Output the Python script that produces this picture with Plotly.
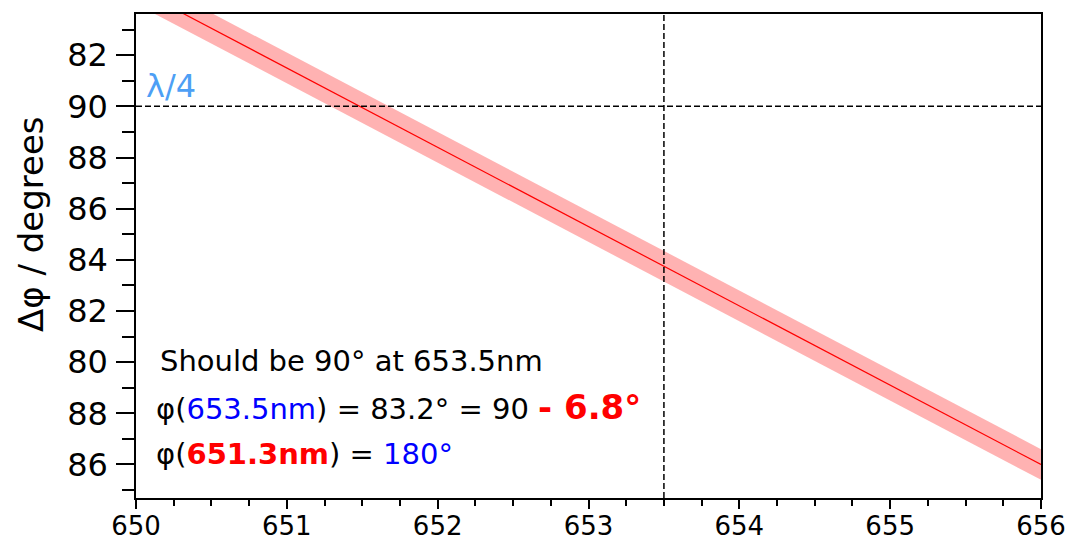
import plotly.graph_objects as go

# ---- data ----
wavelength_nm = [650.0, 651.0, 652.0, 653.0, 654.0, 655.0, 656.0]
phase_deg = [94.6, 91.5, 88.4, 85.3, 82.2, 79.1, 76.0]
phase_upper = [95.2, 92.1, 89.0, 85.9, 82.8, 79.7, 76.6]
phase_lower = [94.0, 90.9, 87.8, 84.7, 81.6, 78.5, 75.4]

quarter_wave_deg = 90
target_nm = 653.5

y_tickvals = [76, 78, 80, 82, 84, 86, 88, 90, 92]
y_ticktext = ["86", "88", "80", "82", "84", "86", "88", "90", "82"]
y_minor_vals = [75, 77, 79, 81, 83, 85, 87, 89, 91, 93]
x_tickvals = [650, 651, 652, 653, 654, 655, 656]

FONT = "DejaVu Sans"

fig = go.Figure()

# uncertainty band
fig.add_trace(go.Scatter(x=wavelength_nm, y=phase_upper, mode="lines",
                         line=dict(width=0, color="rgba(0,0,0,0)"),
                         showlegend=False, hoverinfo="skip"))
fig.add_trace(go.Scatter(x=wavelength_nm, y=phase_lower, mode="lines",
                         line=dict(width=0, color="rgba(0,0,0,0)"),
                         fill="tonexty", fillcolor="rgba(255,0,0,0.3)",
                         showlegend=False, hoverinfo="skip"))
# central line
fig.add_trace(go.Scatter(x=wavelength_nm, y=phase_deg, mode="lines",
                         line=dict(width=1.2, color="red"), showlegend=False))

# dashed reference lines
fig.add_shape(type="line", xref="paper", x0=0, x1=1, yref="y",
              y0=quarter_wave_deg, y1=quarter_wave_deg,
              line=dict(color="black", width=1.5, dash="6px,3px"))
fig.add_shape(type="line", xref="x", x0=target_nm, x1=target_nm, yref="paper",
              y0=0, y1=1, line=dict(color="black", width=1.5, dash="6px,3px"))

# y axis title (placed as rotated annotation to match reference position)
fig.add_annotation(x=-0.116, y=0.566, xref="paper", yref="paper",
                   xanchor="center", yanchor="middle", textangle=-90,
                   text="Δφ / degrees", showarrow=False,
                   font=dict(family=FONT, size=34, color="black"))

# text annotations
fig.add_annotation(x=650.05, y=90.78, xref="x", yref="y", xanchor="left", yanchor="middle",
                   text="λ/4", showarrow=False,
                   font=dict(family=FONT, size=32, color="#4d9ff5"))
fig.add_annotation(x=650.145, y=80.04, xref="x", yref="y", xanchor="left", yanchor="middle",
                   text="Should be 90° at 653.5nm", showarrow=False,
                   font=dict(family=FONT, size=29, color="black"))
fig.add_annotation(x=650.12, y=78.24, xref="x", yref="y", xanchor="left", yanchor="middle",
                   text=("φ(<span style='color:blue'>653.5nm</span>) = 83.2° = 90 "
                         "<span style='color:red;font-size:34px'><b>- 6.8°</b></span>"),
                   showarrow=False, font=dict(family=FONT, size=29, color="black"))
fig.add_annotation(x=650.12, y=76.41, xref="x", yref="y", xanchor="left", yanchor="middle",
                   text=("φ(<span style='color:red'><b>651.3nm</b></span>) = "
                         "<span style='color:blue'>180°</span>"),
                   showarrow=False, font=dict(family=FONT, size=29, color="black"))

fig.update_xaxes(range=[650, 656], tickmode="array", tickvals=x_tickvals,
                 ticktext=[str(v) for v in x_tickvals],
                 ticks="outside", ticklen=9, tickwidth=1.5, tickcolor="black",
                 minor=dict(dtick=0.25, tick0=650, ticks="outside", ticklen=6,
                            tickwidth=1.5, tickcolor="black", showgrid=False),
                 showline=True, linecolor="black", linewidth=1.5, mirror=True,
                 showgrid=False, zeroline=False, ticklabelstandoff=-5,
                 tickfont=dict(family=FONT, size=26, color="black"))
fig.update_yaxes(range=[74.69, 93.61], tickmode="array", tickvals=y_tickvals,
                 ticktext=y_ticktext,
                 ticks="outside", ticklen=18, tickwidth=1.5, tickcolor="black",
                 minor=dict(tickvals=y_minor_vals, ticks="outside", ticklen=12,
                            tickwidth=1.5, tickcolor="black", showgrid=False),
                 showline=True, linecolor="black", linewidth=1.5, mirror=True,
                 showgrid=False, zeroline=False, ticklabelstandoff=2,
                 tickfont=dict(family=FONT, size=32, color="black"))

fig.update_layout(width=1071, height=539,
                  margin=dict(l=136, r=30, t=14, b=41, autoexpand=False),
                  plot_bgcolor="white", paper_bgcolor="white",
                  font=dict(family=FONT))

fig.write_html("out.html", config={"displayModeBar": False},
               post_script="document.body.style.margin='0px';document.body.style.overflow='hidden';")
